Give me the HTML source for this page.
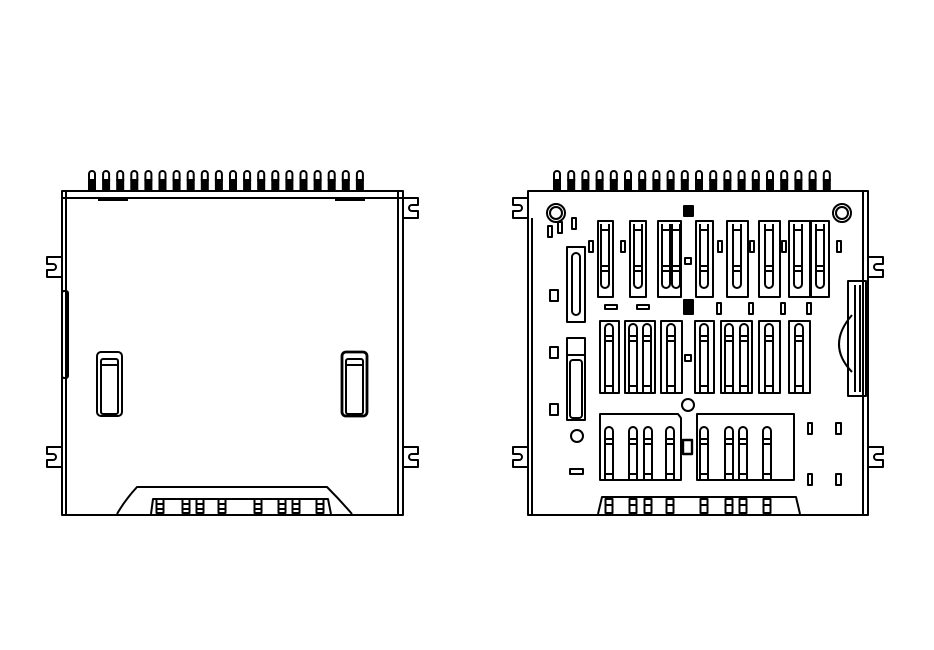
<!DOCTYPE html>
<html><head><meta charset="utf-8"><style>html,body{margin:0;padding:0;background:#fff}svg{display:block}</style></head>
<body>
<svg id="s" width="934" height="650" viewBox="0 0 934 650" xmlns="http://www.w3.org/2000/svg" fill="none" stroke="#000" stroke-width="2" stroke-linejoin="round">
<g id="L">
<rect x="62" y="191" width="341" height="324"/>
<line x1="62" y1="198" x2="403" y2="198"/>
<line x1="66" y1="191" x2="66" y2="515"/>
<line x1="398" y1="191" x2="398" y2="515"/>
<rect x="62" y="291" width="6" height="87" rx="2"/>
<path d="M62 257 H47 V264 H53 A3 3 0 0 1 53 270 H47 V277 H62"/>
<path d="M62 447 H47 V454 H53 A3 3 0 0 1 53 460 H47 V467 H62"/>
<path d="M403 198 H418 V205 H412 A3 3 0 0 0 412 211 H418 V218 H403"/>
<path d="M403 447 H418 V454 H412 A3 3 0 0 0 412 460 H418 V467 H403"/>
<rect x="97" y="352" width="25" height="64" rx="4"/>
<rect x="101" y="359" width="17" height="55" rx="2"/>
<line x1="101" y1="365" x2="118" y2="365"/>
<rect x="342" y="352" width="25" height="64" rx="4" stroke-width="2.8"/>
<rect x="346" y="359" width="17" height="55" rx="2"/>
<line x1="346" y1="365" x2="363" y2="365"/>
<path d="M117 514 Q125 500 137 487 H327 Q340 500 352 514"/>
<path d="M151 514 L153 499 H328 L331 514"/>
<line x1="98" y1="200" x2="128" y2="200"/>
<line x1="335" y1="200" x2="365" y2="200"/>
</g>
<g id="R">
<rect x="528" y="191" width="340" height="324"/>
<line x1="532" y1="218" x2="532" y2="515"/>
<line x1="863" y1="191" x2="863" y2="515"/>
<path d="M528 198 H513 V205 H519 A3 3 0 0 1 519 211 H513 V218 H528"/>
<path d="M528 447 H513 V454 H519 A3 3 0 0 1 519 460 H513 V467 H528"/>
<path d="M868 257 H883 V264 H877 A3 3 0 0 0 877 270 H883 V277 H868"/>
<path d="M868 447 H883 V454 H877 A3 3 0 0 0 877 460 H883 V467 H868"/>
<circle cx="556" cy="213" r="9"/><circle cx="556" cy="213" r="6"/>
<circle cx="842" cy="213" r="9"/><circle cx="842" cy="213" r="6"/>
<circle cx="688" cy="405" r="6"/><circle cx="577" cy="436" r="6"/>
<path d="M598 514 L602 497 H796 L800 514"/>
<path d="M600 414 H678 L681 418 V480 H600 Z"/>
<rect x="697" y="414" width="97" height="66"/>
<rect x="567" y="247" width="18" height="75"/>
<rect x="572" y="253" width="8" height="62" rx="4"/>
<rect x="567" y="338" width="18" height="82"/>
<line x1="567" y1="355" x2="585" y2="355"/>
<rect x="570" y="360" width="12" height="58" rx="3"/>
<rect x="550" y="290" width="8" height="11"/><rect x="550" y="347" width="8" height="11"/><rect x="550" y="404" width="8" height="11"/>
<rect x="548" y="226" width="4" height="11"/><rect x="558" y="222" width="4" height="11"/><rect x="572" y="218" width="4" height="11"/>
<rect x="589" y="241" width="4" height="11"/>
<rect x="570" y="469" width="13" height="5"/>
<rect x="684" y="206" width="9" height="10" fill="#000"/>
<rect x="684" y="300" width="9" height="14" fill="#000"/>
<rect x="685" y="258" width="6" height="6"/><rect x="685" y="355" width="6" height="6"/>
<rect x="683" y="440" width="9" height="14" stroke-width="2.4"/>
<rect x="605" y="305" width="12" height="4"/><rect x="637" y="305" width="12" height="4"/>
<rect x="717" y="303" width="4" height="11"/><rect x="749" y="303" width="4" height="11"/><rect x="781" y="303" width="4" height="11"/><rect x="807" y="303" width="4" height="11"/>
<rect x="621" y="241" width="4" height="11"/><rect x="718" y="241" width="4" height="11"/><rect x="750" y="241" width="4" height="11"/><rect x="782" y="241" width="4" height="11"/><rect x="837" y="241" width="4" height="11"/>
<rect x="808" y="423" width="4" height="11"/><rect x="836" y="423" width="5" height="11"/>
<rect x="808" y="474" width="4" height="11"/><rect x="836" y="474" width="5" height="11"/>
<rect x="848" y="281" width="18" height="115"/>
<line x1="855" y1="285" x2="855" y2="392"/><line x1="860" y1="285" x2="860" y2="392"/>
<path d="M852 315 Q826 345 852 372"/>
</g>
<g id="gen"></g>
</svg>
<script>
var g=document.getElementById('gen'),h='';
function pin(x){h+='<path d="M'+(x-3)+' 191 V174 A3 3 0 0 1 '+(x+3)+' 174 V191"/><rect x="'+(x-3)+'" y="180" width="6" height="11" fill="#000" stroke="none"/><line x1="'+(x-4)+'" y1="180" x2="'+(x+4)+'" y2="180"/>';}
for(var i=0;i<20;i++){pin(92+i*14.1);pin(557+i*14.2);}
function bp(x){h+='<rect x="'+(x-3.5)+'" y="499" width="7" height="14"/><line x1="'+(x-3.5)+'" y1="504" x2="'+(x+3.5)+'" y2="504"/><line x1="'+(x-3.5)+'" y1="509" x2="'+(x+3.5)+'" y2="509"/>';}
[160,186,200,222,258,282,296,320].forEach(bp);
[609,633,648,670,704,729,743,767].forEach(function(x){h+='<rect x="'+(x-3.5)+'" y="499" width="7" height="14"/><line x1="'+(x-3.5)+'" y1="505" x2="'+(x+3.5)+'" y2="505"/>';});
function ct(x,y1,y2,down){
 if(down){h+='<path d="M'+(x-4)+' '+y1+' V'+(y2-4)+' A4 4 0 0 0 '+(x+4)+' '+(y2-4)+' V'+y1+'"/>';
  h+='<line x1="'+(x-4)+'" y1="'+(y1+6)+'" x2="'+(x+4)+'" y2="'+(y1+6)+'"/><line x1="'+(x-4)+'" y1="'+(y2-22)+'" x2="'+(x+4)+'" y2="'+(y2-22)+'"/><line x1="'+(x-4)+'" y1="'+(y2-17)+'" x2="'+(x+4)+'" y2="'+(y2-17)+'"/>';}
 else{h+='<path d="M'+(x-4)+' '+y2+' V'+(y1+4)+' A4 4 0 0 1 '+(x+4)+' '+(y1+4)+' V'+y2+'"/>';
  h+='<line x1="'+(x-4)+'" y1="'+(y1+12)+'" x2="'+(x+4)+'" y2="'+(y1+12)+'"/><line x1="'+(x-4)+'" y1="'+(y1+17)+'" x2="'+(x+4)+'" y2="'+(y1+17)+'"/><line x1="'+(x-4)+'" y1="'+(y2-6)+'" x2="'+(x+4)+'" y2="'+(y2-6)+'"/>';}
}
[[598,613],[630,646],[658,681],[696,713],[727,748],[759,780],[789,810],[811,829]].forEach(function(b){h+='<rect x="'+b[0]+'" y="221" width="'+(b[1]-b[0])+'" height="76"/>';});
[605,638,666,676,704,737,769,798,820].forEach(function(x){ct(x,224,288,true);});
[[600,619],[625,655],[661,682],[695,714],[721,752],[759,780],[789,810]].forEach(function(b){h+='<rect x="'+b[0]+'" y="321" width="'+(b[1]-b[0])+'" height="72"/>';});
[609,633,647,671,704,729,744,769,799].forEach(function(x){ct(x,324,392,false);});
[609,633,648,670,704,729,743,767].forEach(function(x){ct(x,427,480,false);});
g.innerHTML=h;
</script>
</body></html>
